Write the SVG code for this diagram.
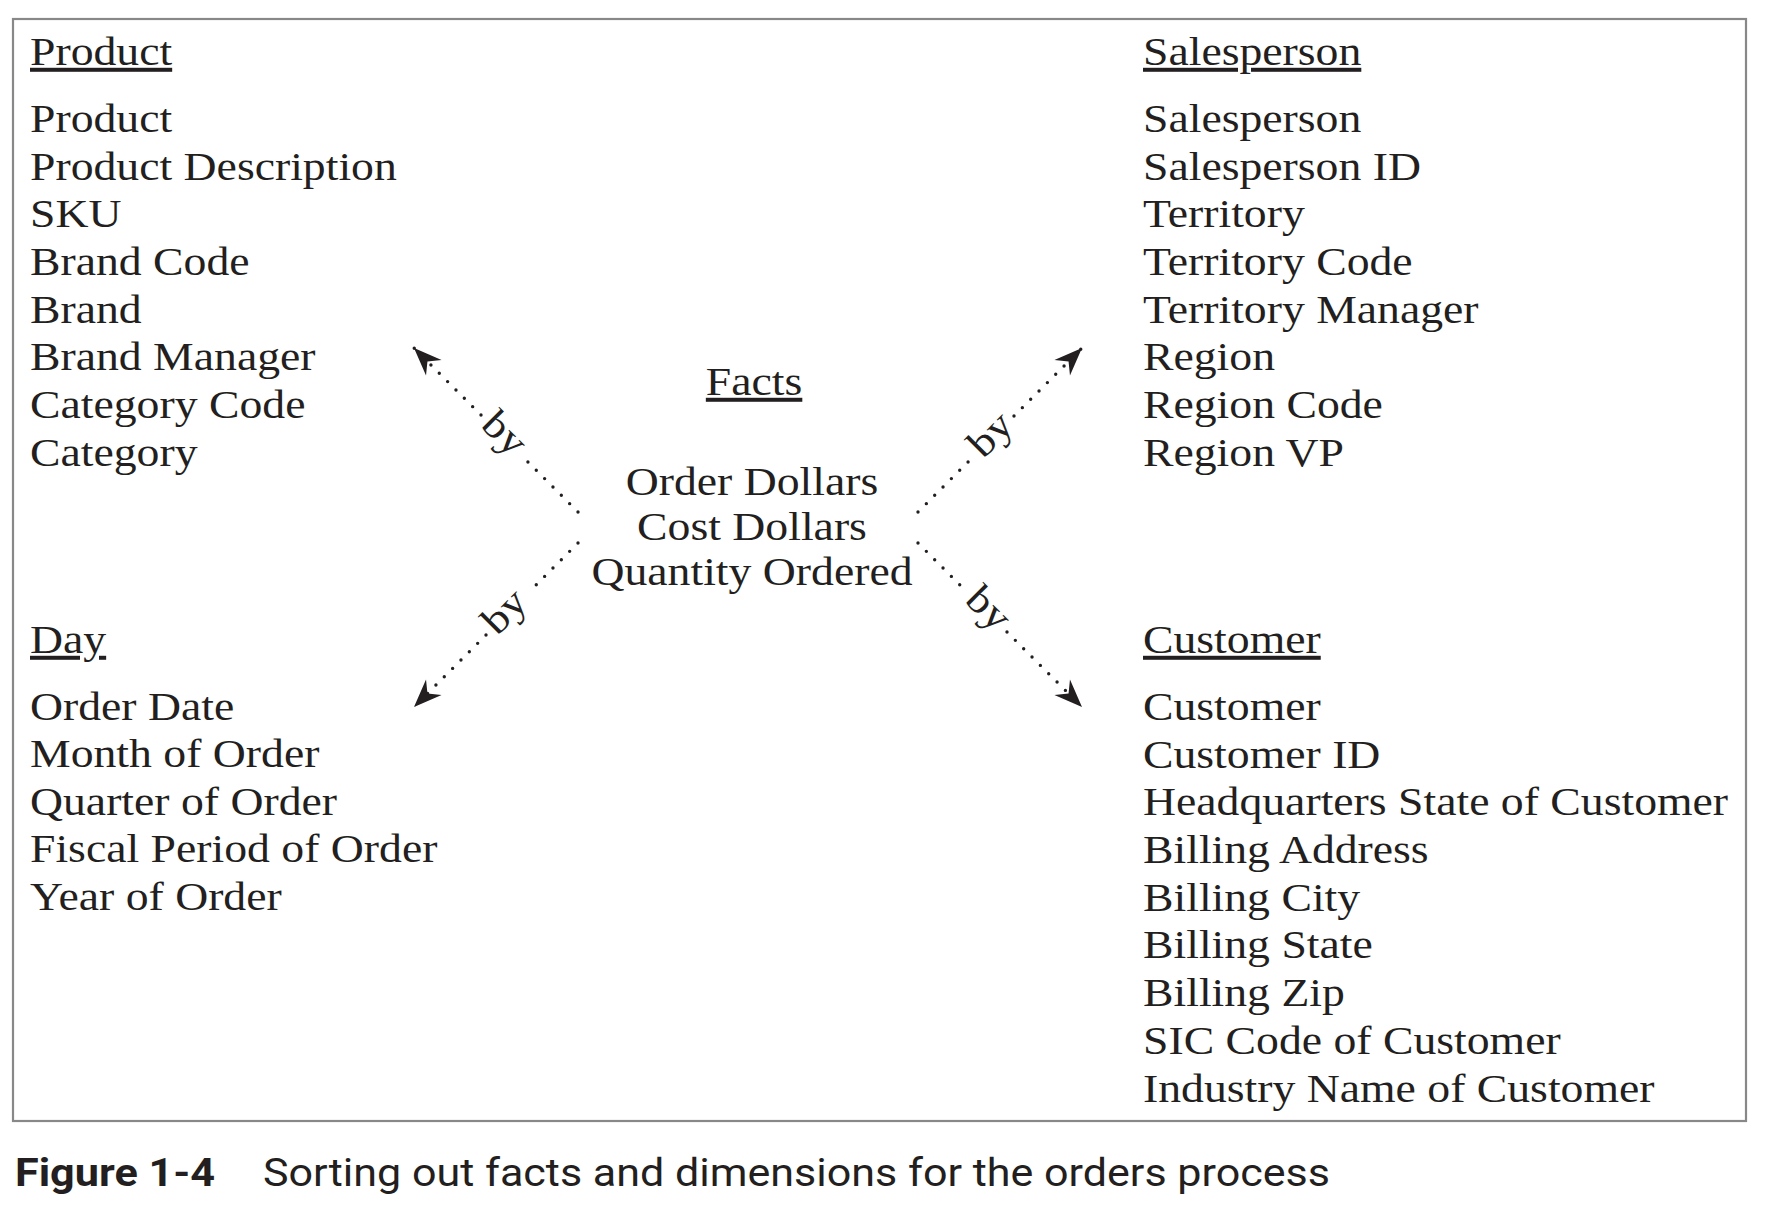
<svg xmlns="http://www.w3.org/2000/svg" width="1786" height="1224" viewBox="0 0 1786 1224">
<style>
.t{font-family:"Liberation Serif","Times New Roman",serif;font-size:40px;fill:#231f20}
.h{text-decoration:underline;text-decoration-skip-ink:none}
.m{text-anchor:middle}
.dot{fill:none;stroke:#231f20;stroke-width:3.4;stroke-linecap:round;stroke-dasharray:0 11.8}
.cap{font-family:Roboto,"Liberation Sans",sans-serif;font-size:39px;fill:#231f20}
</style>
<defs>
<marker id="ah" markerUnits="userSpaceOnUse" viewBox="-30 -13 32 26" refX="0" refY="0" markerWidth="32" markerHeight="26" orient="auto">
<path d="M0,0 L-28,-11 L-19,0 L-28,11 Z" fill="#231f20"/>
</marker>
</defs>
<rect x="13" y="19" width="1733" height="1102" fill="#ffffff" stroke="#888888" stroke-width="2.2"/>

<g id="product" class="t" transform="translate(30,0) scale(1.143,1)">
<text class="h" x="0" y="65">Product</text>
<text x="0" y="132">Product</text>
<text x="0" y="179.7">Product Description</text>
<text x="0" y="227.3">SKU</text>
<text x="0" y="275">Brand Code</text>
<text x="0" y="322.6">Brand</text>
<text x="0" y="370.3">Brand Manager</text>
<text x="0" y="417.9">Category Code</text>
<text x="0" y="465.6">Category</text>
</g>

<g id="salesperson" class="t" transform="translate(1143,0) scale(1.143,1)">
<text class="h" x="0" y="65">Salesperson</text>
<text x="0" y="132">Salesperson</text>
<text x="0" y="179.7">Salesperson ID</text>
<text x="0" y="227.3">Territory</text>
<text x="0" y="275">Territory Code</text>
<text x="0" y="322.6">Territory Manager</text>
<text x="0" y="370.3">Region</text>
<text x="0" y="417.9">Region Code</text>
<text x="0" y="465.6">Region VP</text>
</g>

<g id="facts" class="t m" transform="translate(752,0) scale(1.143,1)">
<text class="h" x="1.8" y="395">Facts</text>
<text x="0" y="495">Order Dollars</text>
<text x="0" y="540">Cost Dollars</text>
<text x="0" y="585">Quantity Ordered</text>
</g>

<g id="day" class="t" transform="translate(30,0) scale(1.143,1)">
<text class="h" x="0" y="653">Day</text>
<text x="0" y="720">Order Date</text>
<text x="0" y="767.5">Month of Order</text>
<text x="0" y="815">Quarter of Order</text>
<text x="0" y="862.5">Fiscal Period of Order</text>
<text x="0" y="910">Year of Order</text>
</g>

<g id="customer" class="t" transform="translate(1143,0) scale(1.143,1)">
<text class="h" x="0" y="653">Customer</text>
<text x="0" y="720">Customer</text>
<text x="0" y="767.7">Customer ID</text>
<text x="0" y="815.4">Headquarters State of Customer</text>
<text x="0" y="863.1">Billing Address</text>
<text x="0" y="910.8">Billing City</text>
<text x="0" y="958.5">Billing State</text>
<text x="0" y="1006.2">Billing Zip</text>
<text x="0" y="1053.9">SIC Code of Customer</text>
<text x="0" y="1101.6">Industry Name of Customer</text>
</g>

<g id="connectors">
<path class="dot" d="M578,512 L523,457"/>
<path class="dot" d="M481,415 L414,348" marker-end="url(#ah)"/>
<text class="t m" transform="translate(502,436) rotate(45) scale(1.143,1)" x="0" y="9">by</text>

<path class="dot" d="M578,543 L528,593"/>
<path class="dot" d="M486,635 L414,707" marker-end="url(#ah)"/>
<text class="t m" transform="translate(507,614) rotate(-45) scale(1.143,1)" x="0" y="9">by</text>

<path class="dot" d="M918,512 L972,458"/>
<path class="dot" d="M1014,416 L1082,348" marker-end="url(#ah)"/>
<text class="t m" transform="translate(993,437) rotate(-45) scale(1.143,1)" x="0" y="9">by</text>

<path class="dot" d="M918,543 L965,590"/>
<path class="dot" d="M1007,632 L1082,707" marker-end="url(#ah)"/>
<text class="t m" transform="translate(986,611) rotate(45) scale(1.143,1)" x="0" y="9">by</text>
</g>

<g id="caption">
<text class="cap" x="15" y="1186" font-weight="bold" textLength="200" lengthAdjust="spacingAndGlyphs">Figure 1-4</text>
<text class="cap" x="263" y="1186" textLength="1067" lengthAdjust="spacingAndGlyphs">Sorting out facts and dimensions for the orders process</text>
</g>
</svg>
